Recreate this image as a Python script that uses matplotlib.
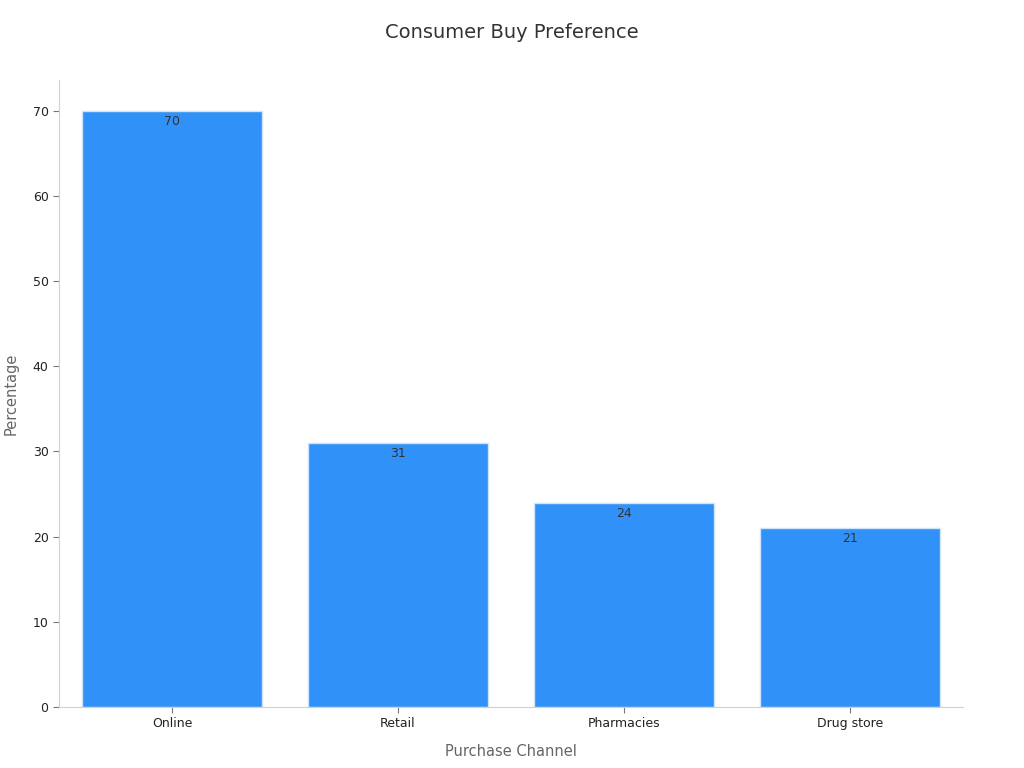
import matplotlib
matplotlib.use("Agg")
import matplotlib.pyplot as plt

# Data
channels = ["Online", "Retail", "Pharmacies", "Drug store"]
percentages = [70, 31, 24, 21]

plt.rcParams['font.family'] = ['DejaVu Sans']

fig = plt.figure(figsize=(10.24, 7.68), dpi=100)
ax = fig.add_axes([0.0576, 0.0794, 0.8828, 0.8166])

bars = ax.bar(range(len(channels)), percentages, width=0.8,
              color='#3092F8', edgecolor='#CFE3FB', linewidth=1)

for b, v in zip(bars, percentages):
    ax.annotate(str(v), (b.get_x() + b.get_width() / 2, v),
                xytext=(0, -3), textcoords='offset points',
                ha='center', va='top', fontsize=9, color='#333333')

ax.set_xlim(-0.5, len(channels) - 0.5)
ax.set_ylim(0, 73.6)
ax.set_xticks(range(len(channels)))
ax.set_xticklabels(channels)
ax.set_yticks(range(0, 71, 10))
ax.tick_params(labelsize=9, colors='#222222')
ax.tick_params(axis='both', color='#777777', length=4)

for s in ['top', 'right']:
    ax.spines[s].set_visible(False)
for s in ['left', 'bottom']:
    ax.spines[s].set_color('#D0D0D0')

ax.set_xlabel('Purchase Channel', fontsize=10.5, color='#666666', labelpad=10)
ax.set_ylabel('Percentage', fontsize=10.5, color='#666666', labelpad=10)
fig.suptitle('Consumer Buy Preference', fontsize=14, color='#333333', y=0.97)

fig.savefig('out.png', dpi=100)
